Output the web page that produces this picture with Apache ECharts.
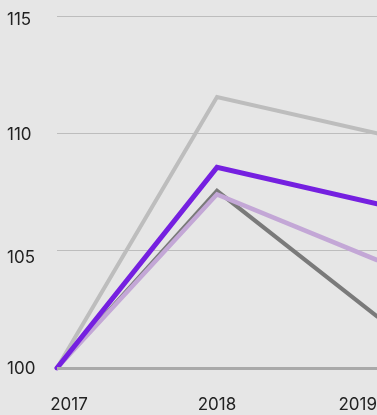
<!DOCTYPE html>
<html>
<head>
<meta charset="utf-8">
<script src="https://cdn.jsdelivr.net/npm/echarts@6/dist/echarts.min.js"></script>
<style>
  html, body { margin: 0; padding: 0; background: #e6e6e6; }
  #chart { width: 377px; height: 415px; }
</style>
</head>
<body>
<div id="chart"></div>
<script>
// Index values, 2017 = 100
const years = ['2017', '2018', '2019'];
const seriesLightGray = [100, 111.55, 110.0];
const seriesDarkGray = [100, 107.55, 102.2];
const seriesLightPurple = [100, 107.4, 104.6];
const seriesPurple = [100, 108.55, 107.0];
const yTicks = [100, 105, 110, 115];

const chart = echarts.init(document.getElementById('chart'), null, { renderer: 'canvas' });

function line(name, data, color, width) {
  return {
    name: name,
    type: 'line',
    data: data,
    symbol: 'none',
    lineStyle: { color: color, width: width, join: 'miter', cap: 'round' },
    animation: false
  };
}

// small per-label vertical nudges for the value axis
const labelFont = { color: '#222', fontFamily: 'Inter', fontSize: 17 };
const yRich = {
  t115: Object.assign({ padding: [8, 0, 0, 0] }, labelFont),
  t110: Object.assign({ padding: [4, 0, 0, 0] }, labelFont),
  t105: Object.assign({ padding: [14, 0, 0, 0] }, labelFont),
  t100: Object.assign({ padding: [1, 0, 0, 0] }, labelFont)
};

chart.setOption({
  backgroundColor: '#e6e6e6',
  grid: { left: 57, right: 0, top: 16, bottom: 47, containLabel: false, outerBoundsMode: 'none' },
  xAxis: {
    type: 'category',
    data: years,
    boundaryGap: false,
    axisLine: { show: false },
    axisTick: { show: false },
    axisLabel: {
      color: '#222',
      fontFamily: 'Inter',
      fontSize: 17,
      margin: 28,
      hideOverlap: false,
      alignMaxLabel: 'right',
      formatter: function (v, i) { return i === 0 ? '{first|' + v + '}' : v; },
      rich: { first: Object.assign({ padding: [0, 0, 0, 24] }, labelFont) }
    }
  },
  yAxis: {
    type: 'value',
    min: yTicks[0],
    max: yTicks[yTicks.length - 1],
    interval: 5,
    axisLine: { show: false },
    axisTick: { show: false },
    axisLabel: {
      color: '#222',
      fontFamily: 'Inter',
      fontSize: 17,
      align: 'left',
      margin: 50,
      formatter: function (v) { return '{t' + v + '|' + v + '}'; },
      rich: yRich
    },
    splitLine: {
      lineStyle: {
        color: ['#a9a9a9', '#bdbdbd', '#bdbdbd', '#bdbdbd'],
        width: 1
      }
    }
  },
  series: [
    line('A', seriesLightGray, '#bdbdbd', 4),
    line('B', seriesDarkGray, '#7a7a7a', 4),
    line('C', seriesLightPurple, '#c3a7d6', 4.5),
    line('D', seriesPurple, '#7520e0', 5),
    {
      type: 'line',
      data: [],
      markLine: {
        silent: true,
        symbol: 'none',
        label: { show: false },
        lineStyle: { color: '#a9a9a9', width: 3, type: 'solid' },
        data: [{ yAxis: yTicks[0] }],
        animation: false
      }
    }
  ]
});
</script>
</body>
</html>
